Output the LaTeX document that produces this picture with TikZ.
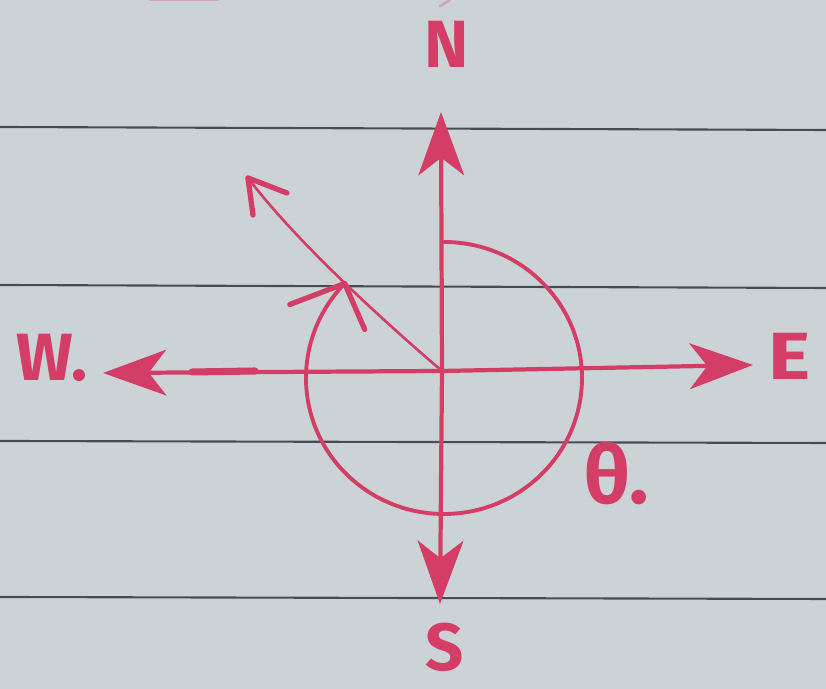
\documentclass[tikz,border=0pt]{standalone}
\usepackage{fontspec}
\setmainfont{Fira Sans}
\usetikzlibrary{arrows.meta}
\definecolor{ink}{RGB}{212,62,102}
\definecolor{paper}{RGB}{204,211,215}
\definecolor{rulecol}{RGB}{72,76,82}
\begin{document}
\begin{tikzpicture}[x=0.01cm,y=-0.01cm,
  pen/.style={draw=ink, line width=1.2pt, line cap=round, line join=round},
  thinpen/.style={draw=ink, line width=0.75pt, line cap=round, line join=round},
  axis/.style={pen, -{Stealth[length=18pt,width=13pt,inset=5pt]}},
  lbl/.style={text=ink, font=\fontsize{19}{19}\selectfont\bfseries, inner sep=0pt},
  ruling/.style={draw=rulecol, line width=0.6pt}]
\fill[paper] (0,0) rectangle (826,689);
\useasboundingbox (0,0) rectangle (826,689);
% ruled lines of the paper
\draw[ruling] (0,127) -- (826,130);
\draw[ruling] (0,285) -- (826,288);
\draw[ruling] (0,441) -- (826,443);
\draw[ruling] (0,597) -- (826,599);
% faint fragments of writing at the top edge
\draw[pen, line width=0.8pt, opacity=0.3] (150,0) -- (218,0);
\draw[pen, line width=0.8pt, opacity=0.3] (440,6) -- (450,0);
% axes
\coordinate (O) at (442,371);
\coordinate (Ntip) at (441,112);
\coordinate (Stip) at (440,604);
\coordinate (Wtip) at (103,373);
\coordinate (Etip) at (753,365);
\draw[axis] (O) -- (Ntip);
\draw[axis] (O) -- (Stip);
\draw[axis] (O) -- (Wtip);
\draw[axis] (O) -- (Etip);
\draw[pen, line width=2pt] (192,372) -- (255,371);
% bearing circle arc with open arrowhead
\draw[pen, line width=1.1pt] (444,242) arc[start angle=270, end angle=584, x radius=138, y radius=136] coordinate (arcend);
\draw[pen, line width=1.5pt] (arcend) -- ++(-55,21);
\draw[pen, line width=1.5pt] (arcend) -- ++(20,46);
% direction line with open arrowhead
\coordinate (Dtip) at (248,178);
\draw[thinpen] (O) .. controls (380,318) and (295,240) .. (Dtip);
\draw[pen, line width=1.5pt] (Dtip) -- ++(39,15);
\draw[pen, line width=1.5pt] (Dtip) -- ++(5,37);
% labels
\node[lbl] (N) at (447,44) {N};
\node[lbl] (S) at (445,647) {S};
\node[lbl] (W) at (52,358) {W.};
\node[lbl, xscale=1.2] (E) at (790,356) {E};
\node[lbl, font=\fontsize{23}{23}\selectfont\bfseries] (th) at (617,474) {θ.};
\end{tikzpicture}
\end{document}
